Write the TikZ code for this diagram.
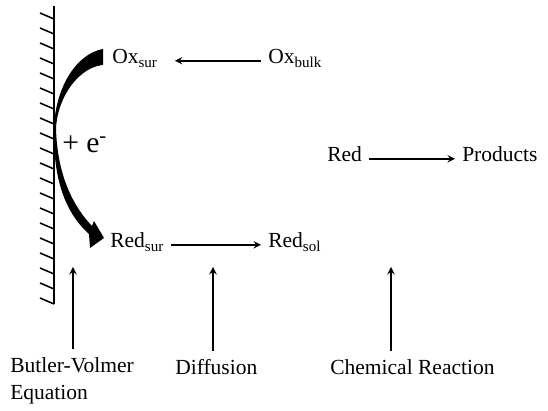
\documentclass[tikz,border=0pt]{standalone}
\usepackage{fontspec}
\setmainfont{Liberation Serif}
\usetikzlibrary{arrows, positioning}

\begin{document}
\begin{tikzpicture}[
    x=0.025cm, y=-0.025cm,
    lbl/.style={inner sep=0pt, font=\fontsize{15.3}{19.2}\selectfont},
    arrow/.style={line width=1.3pt,->,>=stealth, shorten >=5pt, shorten <=5pt},
    hatch/.style={line width=1.1pt}
]
\useasboundingbox (0,0) rectangle (548,411);

% electrode
\draw[line width=1.5pt] (54,6) -- (54,304);
\foreach \i in {0,...,19}
  \draw[hatch] (40,{13+15*\i}) -- (54,{19+15*\i});

% species
\node (oxsur) [lbl, anchor=base west] at (112,64) {Ox\textsubscript{sur}};
\node (oxbulk) [lbl, anchor=base west] at (268,64) {Ox\textsubscript{bulk}};
\node (redsur) [lbl, anchor=base west] at (110,248) {Red\textsubscript{sur}};
\node (redsol) [lbl, anchor=base west] at (268,248) {Red\textsubscript{sol}};
\node (red) [lbl, anchor=base west] at (327,162) {Red};
\node (products) [lbl, anchor=base west] at (462,162) {Products};
\node (electron) [lbl, font=\fontsize{21}{25}\selectfont, anchor=base west] at (62,153) {+ e\textsuperscript{-}};

% electron transfer
\fill (103,49) -- (103,65) .. controls (80,67) and (58,95) .. (56,128)
  .. controls (57,170) and (70,203) .. (92,226) -- (94,221) -- (104,238) -- (90,248) -- (89,234)
  .. controls (62,210) and (53,172) .. (54,128)
  .. controls (55,90) and (75,54) .. (103,49) -- cycle;

\draw [arrow, shorten >=12pt] (oxbulk.mid west) -- (oxsur.mid east);
\draw [arrow] (redsur.mid east) -- (redsol.mid west);
\draw [arrow] (red.mid east) -- (products.mid west);

% processes
\node (bv) [lbl, anchor=north west, align=left] at (10,357) {Butler-Volmer\\Equation};
\node (diff) [lbl, anchor=base west] at (175,375) {Diffusion};
\node (chem) [lbl, anchor=base west] at (330,375) {Chemical Reaction};

\coordinate (bvtop) at (73,267);
\coordinate (difftop) at (213,267);
\coordinate (chemtop) at (391,267);

\draw [arrow, shorten >=0pt, shorten <=6pt] (bvtop |- bv.north) -- (bvtop);
\draw [arrow, shorten >=0pt, shorten <=6pt] (difftop |- diff.north) -- (difftop);
\draw [arrow, shorten >=0pt, shorten <=6pt] (chemtop |- chem.north) -- (chemtop);
\end{tikzpicture}
\end{document}
